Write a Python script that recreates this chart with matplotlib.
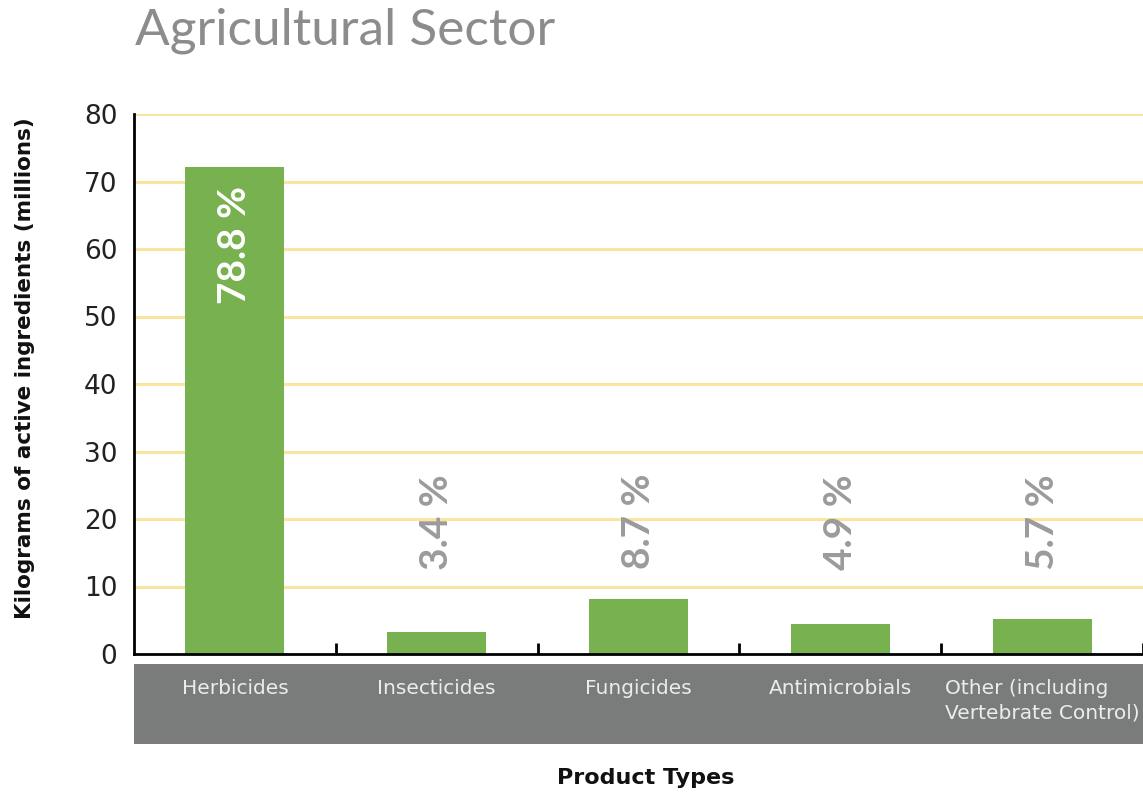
import matplotlib
matplotlib.use("Agg")
import matplotlib.pyplot as plt
from matplotlib.patches import Rectangle

categories = ["Herbicides", "Insecticides", "Fungicides", "Antimicrobials",
              "Other (including\nVertebrate Control)"]
values = [72.1, 3.3, 8.1, 4.5, 5.2]
pct_labels = ["78.8 %", "3.4 %", "8.7 %", "4.9 %", "5.7 %"]
yticks = [0, 10, 20, 30, 40, 50, 60, 70, 80]

plt.rcParams['font.family'] = ['DejaVu Sans']

fig = plt.figure(figsize=(11.43, 7.94), dpi=100)
ax = fig.add_axes([134/1143, 1-654/794, 1-134/1143, 540/794])

x = list(range(len(categories)))
ax.bar(x, values, width=0.49, color='#77b150', zorder=3)

ax.set_xlim(-0.5, 4.5)
ax.set_ylim(0, 80)
ax.set_yticks(yticks)
ax.set_yticklabels([str(t) for t in yticks], fontsize=19, color='#222222')
for t in yticks[1:]:
    ax.axhline(t, color='#fbe3a0', lw=2.2, zorder=1)

for s in ['top', 'right']:
    ax.spines[s].set_visible(False)
ax.spines['left'].set_linewidth(2)
ax.spines['bottom'].set_linewidth(2)
ax.spines['left'].set_zorder(4)
ax.spines['bottom'].set_zorder(4)

ax.set_xticks([i + 0.5 for i in x])
ax.set_xticklabels([])
ax.tick_params(axis='x', direction='in', length=8, width=2, color='black')
ax.tick_params(axis='y', length=0, pad=12)

# gray category band
band = Rectangle((0, -0.1667), 1.0, 0.1482, transform=ax.transAxes,
                 facecolor='#7a7c7b', edgecolor='none', clip_on=False, zorder=2)
ax.add_patch(band)
trans = ax.get_xaxis_transform()
for i, c in enumerate(categories):
    ax.text(i, -0.046, c, transform=trans, ha='center', va='top',
            fontsize=14.5, color='#ececec', linespacing=1.35, multialignment='left')

# percentage labels
for i, (v, p) in enumerate(zip(values, pct_labels)):
    col = 'white' if i == 0 else '#9b9b9b'
    yc = 60.6 if i == 0 else 19.6
    ax.text(i, yc, p, rotation=90, ha='center', va='center', family='Lato',
            fontsize=28, fontweight='bold', color=col, zorder=5)

fig.text(135/1143, 1-31/794, "Agricultural Sector", fontsize=37, color='#8c8c8c',
         ha='left', va='center', family='Lato', fontweight='normal')
fig.text(25/1143, 1-368/794, "Kilograms of active ingredients (millions)", rotation=90,
         fontsize=15.5, fontweight='bold', ha='center', va='center', color='#111111')
fig.text(646/1143, 1-778/794, "Product Types", fontsize=16, fontweight='bold',
         ha='center', va='center', color='#111111')

fig.savefig("out.png", dpi=100)
